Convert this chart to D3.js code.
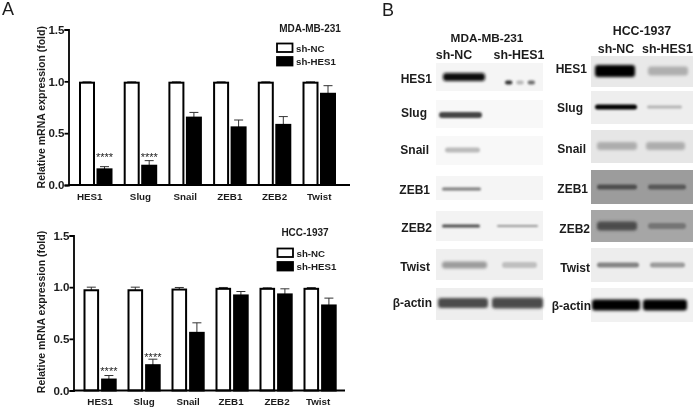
<!DOCTYPE html>
<html><head><meta charset="utf-8">
<script src="https://cdn.jsdelivr.net/npm/d3@7"></script>
<style>html,body{margin:0;background:#fff}svg{display:block}text{font-family:"Liberation Sans",Arial,sans-serif;fill:#1c1c1c}</style>
</head><body><svg id="c" width="696" height="409"></svg>
<script>
const genes=["HES1","Slug","Snail","ZEB1","ZEB2","Twist"];
const groups=["sh-NC","sh-HES1"];
const yTicks=[0,0.5,1,1.5];
const mdaNC=[0.987,0.987,0.987,0.987,0.987,0.987];
const mdaNCErr=[0.008,0.008,0.008,0.008,0.008,0.008];
const mdaKD=[0.151,0.186,0.65,0.556,0.58,0.88];
const mdaKDErr=[0.026,0.049,0.05,0.071,0.08,0.078];
const mdaStars=["****","****","","","",""];
const mdaStarLevel=[0.231,0.231,0,0,0,0];
const hccNC=[0.97,0.97,0.977,0.984,0.984,0.984];
const hccNCErr=[0.03,0.03,0.02,0.013,0.01,0.012];
const hccKD=[0.106,0.245,0.558,0.92,0.93,0.823];
const hccKDErr=[0.039,0.058,0.097,0.038,0.054,0.071];
const hccStars=["****","****","","","",""];
const hccStarLevel=[0.15,0.285,0,0,0,0];
const blotRows=["HES1","Slug","Snail","ZEB1","ZEB2","Twist","β-actin"];
const mdaBlotNC=[0.95,0.72,0.25,0.5,0.68,0.35,0.68];
const mdaBlotKD=[0,0,0,0,0.38,0.2,0.68];
const hccBlotNC=[1,1,0.25,0.5,0.55,0.45,1];
const hccBlotKD=[0.25,0.25,0.25,0.45,0.3,0.35,1];
const mdaBlotBg=["#f5f5f5","#f8f8f8","#f8f8f8","#f5f5f5","#f3f3f3","#efefef","#eeeeee"];
const hccBlotBg=["#e9e9e9","#eeeeee","#e6e6e6","#9c9c9c","#a6a6a6","#ededed","#f1f1f1"];
const mdaHes1Blobs=[0.8,0.25,0.55];

const svg=d3.select("#c");
const defs=svg.append("defs");
[["soft",0.4],["b1",1.0],["b2",1.5]].forEach(([id,s])=>defs.append("filter").attr("id",id)
  .attr("x","-20%").attr("y","-100%").attr("width","140%").attr("height","300%")
  .append("feGaussianBlur").attr("stdDeviation",s));
const art=svg.append("g");
const root=svg.append("g").attr("filter","url(#soft)");

function barChart(o){
  const g=root.append("g");
  const y=d3.scaleLinear().domain([0,1.5]).range([o.y0,o.y1]);
  const x=d3.scaleBand().domain(genes).range([o.xs,o.xs+o.step*6]);
  const bw=o.bw;
  const pos=(i,k)=>x(genes[i])+(k?bw+o.gap:0);
  [[o.nc,o.ncErr,"#fff"],[o.kd,o.kdErr,"#000"]].forEach(([vals,errs,fill],k)=>{
    const cols=g.append("g");
    cols.selectAll("path").data(vals).join("path")
      .attr("d",(v,i)=>{const c=pos(i,k)+bw/2,t=y(v+errs[i]);
        return `M${c},${y(v)}V${t}M${c-4.5},${t}H${c+4.5}`;})
      .attr("stroke","#333").attr("stroke-width",1).attr("fill","none");
    cols.selectAll("rect").data(vals).join("rect")
      .attr("x",(v,i)=>pos(i,k)+1).attr("width",bw-2)
      .attr("y",v=>y(v)).attr("height",v=>o.y0-y(v))
      .attr("fill",fill).attr("stroke","#000").attr("stroke-width",2);
  });
  g.selectAll("text.star").data(o.stars).join("text").attr("class","star")
    .attr("x",(s,i)=>pos(i,1)+bw/2).attr("y",(s,i)=>y(o.starLevel[i]))
    .attr("text-anchor","middle").attr("font-size",11).text(s=>s);
  const ay=d3.axisLeft(y).tickValues(yTicks).tickFormat(d3.format(".1f")).tickSize(4).tickPadding(0);
  const gy=g.append("g").attr("transform",`translate(${o.ax},0)`).call(ay);
  gy.selectAll("path,line").attr("stroke","#000").attr("stroke-width",1.8);
  gy.selectAll("text").attr("font-size",11.6).attr("font-weight","bold");
  const ax=d3.axisBottom(x).tickSize(0).tickPadding(8);
  const gx=g.append("g").attr("transform",`translate(0,${o.y0})`).call(ax);
  gx.select("path").attr("d",`M${o.ax},0H${o.xe}`).attr("stroke","#000").attr("stroke-width",1.8);
  gx.selectAll("text").attr("font-size",9.8).attr("font-weight","bold").attr("fill","#222")
    .attr("dx",(d,i)=>bw+o.gap/2-o.step/2+o.nudge[i]);
  g.append("text").attr("transform",`translate(${o.ylx},${(o.y0+o.y1)/2+o.yld}) rotate(-90)`)
    .attr("text-anchor","middle").attr("font-size",10.5).attr("font-weight","bold").attr("fill","#333")
    .text("Relative mRNA expression (fold)");
  g.append("text").attr("x",o.titleX).attr("y",o.titleY).attr("text-anchor","middle")
    .attr("font-size",10).attr("font-weight","bold").text(o.title);
  groups.forEach((n,k)=>{
    g.append("rect").attr("x",o.lx).attr("y",o.ly+k*o.ld).attr("width",15.5).attr("height",8.5)
      .attr("fill",k?"#000":"#fff").attr("stroke","#000").attr("stroke-width",1.8);
    g.append("text").attr("x",o.lx+19).attr("y",o.ly+8+k*o.ld).attr("font-size",9.7).attr("font-weight","bold").text(n);
  });
}
barChart({title:"MDA-MB-231",nc:mdaNC,ncErr:mdaNCErr,kd:mdaKD,kdErr:mdaKDErr,stars:mdaStars,starLevel:mdaStarLevel,
  y0:185,y1:29.5,ax:68.5,xe:350,xs:79,step:44.7,bw:16,gap:1.5,ylx:45,yld:0,titleX:310,titleY:32,lx:277,ly:43.5,ld:13.5,nudge:[-6,0,0,0,0,0]});
barChart({title:"HCC-1937",nc:hccNC,ncErr:hccNCErr,kd:hccKD,kdErr:hccKDErr,stars:hccStars,starLevel:hccStarLevel,
  y0:390.5,y1:235.5,ax:73.5,xe:345,xs:83.5,step:44,bw:15.6,gap:2,ylx:45,yld:-1,titleX:305,titleY:236,lx:277.5,ly:248.5,ld:13.5,nudge:[0,0,0,-1,1,-2]});

root.append("text").attr("x",2).attr("y",15).attr("font-size",18).text("A");
root.append("text").attr("x",382).attr("y",16).attr("font-size",18).text("B");

function blot(o){
  blotRows.forEach((r,i)=>{
    const [t,b]=o.rows[i],cy=o.cy[i];
    art.append("rect").attr("x",o.x0).attr("y",t).attr("width",o.x1-o.x0).attr("height",b-t).attr("fill",o.bg[i]);
    groups.forEach((n,k)=>{
      const v=(k?o.kd:o.nc)[i];
      if(!v) return;
      const [a,w]=o.bands[i][k],h=o.th[i][k];
      art.append("rect").attr("x",a).attr("y",cy-h/2).attr("width",w).attr("height",h)
        .attr("rx",Math.min(h/2,3)).attr("fill",d3.interpolateRgb(o.bg[i],"#000")(v))
        .attr("filter",h>6?"url(#b2)":"url(#b1)");
    });
    root.append("text").attr("x",o.lblX[i]).attr("y",o.lblY[i]).attr("text-anchor","end")
      .attr("font-size",12).attr("font-weight","bold").text(r);
  });
  root.append("text").attr("x",o.titleX).attr("y",o.titleY).attr("text-anchor","middle")
    .attr("font-size",o.titleSize).attr("font-weight","bold").text(o.title);
  groups.forEach((n,k)=>root.append("text").attr("x",o.hx[k]).attr("y",o.hy).attr("text-anchor","middle")
    .attr("font-size",12.4).attr("font-weight","bold").text(n));
}
blot({title:"MDA-MB-231",titleSize:11.8,titleX:487,titleY:42,hx:[454,519],hy:59,
  lblX:[432,427,429,430,432,430,432],lblY:[83,117,154,194,232,271,307],
  x0:436,x1:543,bg:mdaBlotBg,nc:mdaBlotNC,kd:mdaBlotKD,
  rows:[[63,91],[100,128],[136,165],[176,200],[211,241],[249,280],[288,320]],
  cy:[77,115,150,189,226,265,303],
  bands:[[[443,42]],[[439,43]],[[445,35]],[[442,39]],[[442,38],[497,41]],[[442,45],[502,35]],[[438,50],[492,51]]],
  th:[[8],[6],[5],[3],[3,2],[7,6],[10,11]]});
blot({title:"HCC-1937",titleSize:12.4,titleX:642,titleY:35,hx:[616,667.5],hy:53,
  lblX:[587,583,586,588,590,590,591],lblY:[73,112,153,193,233,272,310],
  x0:591,x1:693,bg:hccBlotBg,nc:hccBlotNC,kd:hccBlotKD,
  rows:[[56,87],[91,124],[130,163],[170,204],[210,242],[248,282],[288,322]],
  cy:[71,107,146,187,226,265,305],
  bands:[[[595,40],[648,40]],[[595,42],[647,35]],[[597,40],[646,39]],[[597,40],[648,38]],[[597,40],[648,38]],[[597,42],[650,35]],[[592,48],[643,44]]],
  th:[[12,9],[5,3],[8,8],[5,5],[9,6],[5,5],[11,11]]});

// MDA-MB-231 HES1 sh-HES1 lane: three separate faint spots
const spot=d3.scaleBand().domain(d3.range(mdaHes1Blobs.length)).range([503,537]);
art.selectAll("rect.spot").data(mdaHes1Blobs).join("rect").attr("class","spot")
  .attr("x",(v,i)=>spot(i)+2).attr("width",spot.bandwidth()-4).attr("y",80.5).attr("height",4).attr("rx",2)
  .attr("fill",v=>d3.interpolateRgb(mdaBlotBg[0],"#000")(v)).attr("filter","url(#b1)");
</script></body></html>
